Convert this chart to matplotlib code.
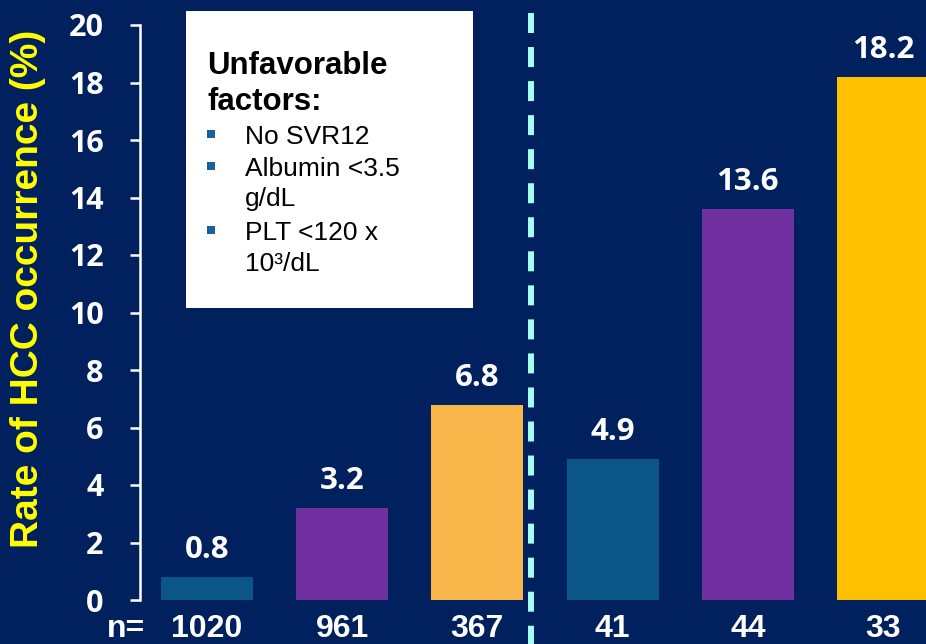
import matplotlib
matplotlib.use("Agg")
import matplotlib.pyplot as plt
from matplotlib.patches import Rectangle

# Data
groups = ["G1", "G2", "G3", "G4", "G5", "G6"]
rates = [0.8, 3.2, 6.8, 4.9, 13.6, 18.2]
n_values = ["1020", "961", "367", "41", "44", "33"]
bar_colors = ["#0B5689", "#7030A0", "#F8B54A", "#0B5689", "#7030A0", "#FFC000"]
y_ticks = [0, 2, 4, 6, 8, 10, 12, 14, 16, 18, 20]
factor_title = ["Unfavorable", "factors:"]
factor_lines = [("No SVR12", True), ("Albumin <3.5", True), ("g/dL", False),
                ("PLT <120 x", True), ("10³/dL", False)]

BG = "#00205E"
W, H = 926, 644
DPI = 100

fig = plt.figure(figsize=(W / DPI, H / DPI), dpi=DPI, facecolor=BG)


def fx(x):
    return x / W


def fy(y):
    return 1 - y / H


# Axes: left spine at x=140 px, y=0 at 600 px, y=20 at 25 px
ax = fig.add_axes([fx(140), fy(600), fx(926) - fx(140), (600 - 25) / H])
ax.set_facecolor(BG)

xpos = list(range(len(groups)))
ax.bar(xpos, rates, width=0.68, color=bar_colors, zorder=2)
ax.set_xlim(-0.4955, 5.318)
ax.set_ylim(0, 20)

for s in ["top", "right", "bottom"]:
    ax.spines[s].set_visible(False)
ax.spines["left"].set_color("white")
ax.spines["left"].set_linewidth(1.8)
ax.spines["left"].set_bounds(0, 20)
ax.set_yticks(y_ticks)
ax.set_yticklabels([str(t) for t in y_ticks])
ax.tick_params(axis="y", direction="out", length=7.2, width=1.8, color="white",
               pad=19, labelcolor="white")
for lab in ax.get_yticklabels():
    lab.set_fontfamily("Open Sans")
    lab.set_fontweight("bold")
    lab.set_fontsize(22)
ax.set_xticks([])

# Value labels above bars
for x, v in zip(xpos, rates):
    ax.annotate(f"{v}", xy=(x, v), xytext=(0, 13.5), textcoords="offset points",
                ha="center", va="baseline", color="white", fontsize=22.5,
                fontweight="bold", family="Open Sans")

# Sample sizes under bars
xt = ax.get_xaxis_transform()
for x, n in zip(xpos, n_values):
    ax.text(x, -37 / 575, n, transform=xt, ha="center", va="baseline",
            color="white", fontsize=23, fontweight="bold",
            family="Liberation Sans", clip_on=False)
fig.text(fx(107), fy(637), "n=", ha="left", va="baseline", color="white",
         fontsize=23, fontweight="bold", family="Liberation Sans")

# Dashed separator between the two groups
ax.plot([2.4, 2.4], [20.42, -1.6], color="#A6FFF0", lw=4.3,
        ls=(0, (3.35, 2.35)), solid_capstyle="butt", dash_capstyle="butt",
        clip_on=False, zorder=3)

# Y axis title
fig.text(fx(28), fy(289), "Rate of HCC occurrence (%)", rotation=90,
         ha="center", va="center", color="#FFFF00", fontsize=28,
         fontweight="bold", family="Liberation Sans")

# Info box
box = Rectangle((fx(186), fy(308)), fx(473) - fx(186), fy(11) - fy(308),
                transform=fig.transFigure, facecolor="white", edgecolor="none",
                zorder=5)
fig.add_artist(box)
title_baselines = [74, 110]
for t, yb in zip(factor_title, title_baselines):
    fig.text(fx(207), fy(yb), t, ha="left", va="baseline", color="black",
             fontsize=22.5, fontweight="bold", family="Liberation Sans", zorder=6)
line_baselines = [144, 176, 206, 240, 271]
for (t, bullet), yb in zip(factor_lines, line_baselines):
    fig.text(fx(245), fy(yb), t, ha="left", va="baseline", color="black",
             fontsize=19, family="Liberation Sans", zorder=6)
    if bullet:
        fig.add_artist(Rectangle((fx(207), fy(yb - 6)), fx(215) - fx(207),
                                 fy(yb - 14) - fy(yb - 6),
                                 transform=fig.transFigure, facecolor="#1F5F99",
                                 edgecolor="none", zorder=6))

fig.savefig("out.png", dpi=DPI, facecolor=BG)
